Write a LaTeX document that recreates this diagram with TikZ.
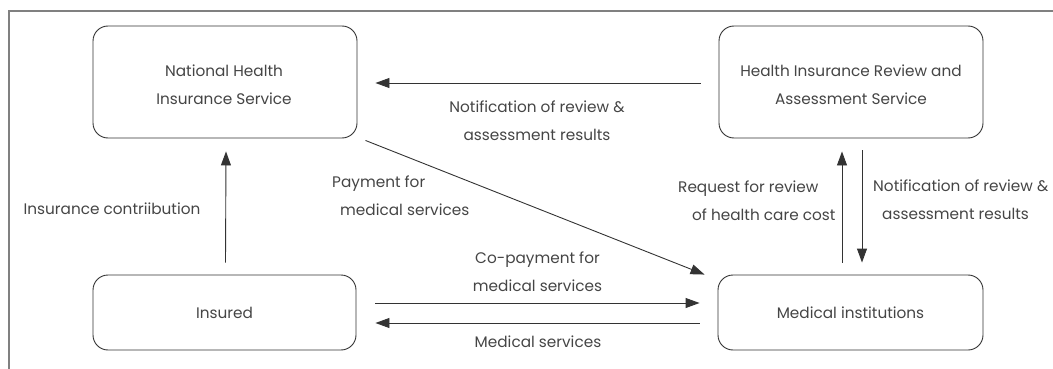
\documentclass[tikz,border=0pt]{standalone}
\usepackage{fontspec}
\setmainfont{Poppins}
\usetikzlibrary{arrows.meta}
\definecolor{ink}{HTML}{333333}
\definecolor{txt}{HTML}{454545}
\definecolor{frame}{HTML}{808080}
\tikzset{
  box/.style={draw=ink, line width=0.9pt, rounded corners=15pt, fill=white,
    align=center, inner sep=0pt},
  arr/.style={draw=ink, line width=0.9pt, -{Triangle[length=14pt,width=10pt]}},
  lbl/.style={text=txt, font=\fontsize{15.3}{28}\selectfont, inner sep=0pt},
}
\begin{document}
\begin{tikzpicture}[x=1pt,y=-1pt]
  \useasboundingbox (0,0) rectangle (1053,369);
  % outer frame: top and left edges only
  \draw[frame, line width=1.8pt] (1053,11) -- (9,11) -- (9,369);

  % actors
  \node[box, minimum width=264pt, minimum height=112pt] (nhis) at (225,82) {};
  \node[box, minimum width=264pt, minimum height=112pt] (hira) at (851,82) {};
  \node[box, minimum width=263pt, minimum height=75pt] (ins) at (224.5,312.5) {};
  \node[box, minimum width=265pt, minimum height=75pt] (med) at (850.5,312.5) {};

  \node[lbl, align=center] (nhist) at (224,84.5) {National Health\\Insurance Service};
  \node[lbl, align=center] (hirat) at (851,84.5) {Health Insurance Review and\\Assessment Service};
  \node[lbl] (inst) at (224.5,313) {Insured};
  \node[lbl] (medt) at (850.5,313) {Medical institutions};

  % flows
  \draw[arr] ([xshift=-18pt,yshift=-1pt]hira.west) -- ([xshift=18pt,yshift=-1pt]nhis.east);
  \draw[arr] ([xshift=1pt,yshift=12pt]ins.north) -- ([xshift=1pt,yshift=-13pt]nhis.south);
  \draw[arr] ([xshift=8pt,yshift=-2pt]nhis.south east) -- ([xshift=-13pt]med.north west);
  \draw[arr] ([xshift=19pt,yshift=9.5pt]ins.east) -- ([xshift=-18pt,yshift=9.5pt]med.west);
  \draw[arr] ([xshift=-18pt,yshift=-10.5pt]med.west) -- ([xshift=19pt,yshift=-10.5pt]ins.east);
  \draw[arr] ([xshift=-8.5pt,yshift=12pt]med.north) -- ([xshift=-9pt,yshift=-13pt]hira.south);
  \draw[arr] ([xshift=11pt,yshift=-12pt]hira.south) -- ([xshift=11.5pt,yshift=12pt]med.north);

  % flow labels
  \node[lbl, align=center] (l1) at (537,121) {Notification of review \&\\assessment results};
  \node[lbl, align=left, anchor=west] (l2) at (332,196) {Payment for\\\hspace*{8pt}medical services};
  \node[lbl] (l3) at (112,209) {Insurance contriibution};
  \node[lbl, align=center] (l4) at (537.5,271.5) {Co-payment for\\medical services};
  \node[lbl] (l5) at (538,342) {Medical services};
  \node[lbl, align=left, anchor=west] (l6) at (678,201) {Request for review\\\hspace*{14pt}of health care cost};
  \node[lbl, align=left, anchor=west] (l7) at (873,200) {Notification of review \&\\\hspace*{9pt}assessment results};
\end{tikzpicture}
\end{document}
